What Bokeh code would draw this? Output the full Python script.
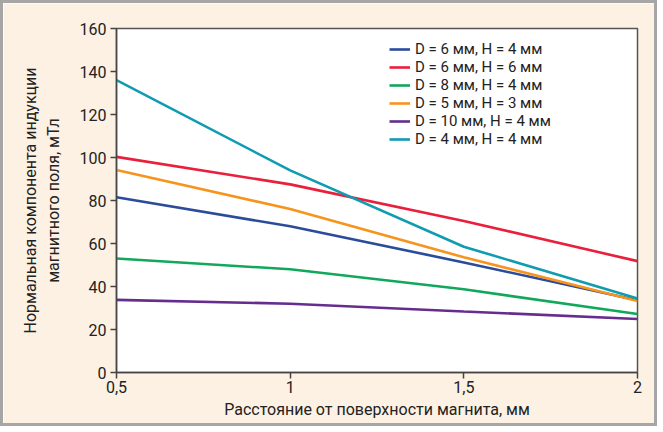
from bokeh.plotting import figure
from bokeh.models import Legend, LegendItem, FixedTicker
from bokeh.embed import file_html
from bokeh.resources import INLINE

x = [0.5, 1.0, 1.5, 2.0]
labels = ["D = 6 мм, H = 4 мм", "D = 6 мм, H = 6 мм", "D = 8 мм, H = 4 мм",
          "D = 5 мм, H = 3 мм", "D = 10 мм, H = 4 мм", "D = 4 мм, H = 4 мм"]
s_d6h4 = [81.5, 68, 51.2, 33.6]
s_d6h6 = [100.3, 87.5, 70.5, 51.8]
s_d8h4 = [53, 48, 38.7, 27.2]
s_d5h3 = [94.2, 76, 53.6, 33.3]
s_d10h4 = [33.8, 32, 28.4, 24.9]
s_d4h4 = [136, 94, 58.5, 34.4]
series = [s_d6h4, s_d6h6, s_d8h4, s_d5h3, s_d10h4, s_d4h4]
colors = ["#2b4c9b", "#ea1f3b", "#12a85c", "#f7941e", "#662d8f", "#0f9cb1"]
y_ticks = [0, 20, 40, 60, 80, 100, 120, 140, 160]
x_ticks = [0.5, 1.0, 1.5, 2.0]
x_tick_labels = {0.5: "0,5", 1.0: "1", 1.5: "1,5", 2.0: "2"}

FONT = "Roboto"
CREAM = "#fdf1e3"

p = figure(width=657, height=426, output_backend="svg", toolbar_location=None,
           x_range=(0.5, 2.0), y_range=(0, 160),
           min_border_left=113, min_border_right=23, min_border_top=25, min_border_bottom=57)
p.border_fill_color = CREAM
p.background_fill_color = "white"
p.outline_line_color = "#555555"
p.outline_line_width = 1.5
p.grid.visible = False
p.styles = {"border": "3px solid #a6a6a6"}

items = []
for s, c, lab in zip(series, colors, labels):
    r = p.line(x, s, line_color=c, line_width=2.6)
    items.append(LegendItem(label=lab, renderers=[r]))

leg = Legend(items=items, location=(273, 224))
leg.background_fill_alpha = 0
leg.border_line_alpha = 0
leg.label_text_font = FONT
leg.label_text_font_size = "15px"
leg.label_text_color = "#222222"
leg.glyph_width = 21
leg.label_height = 18
leg.glyph_height = 18
leg.spacing = 0
leg.padding = 0
leg.margin = 0
leg.label_standoff = 5
p.add_layout(leg)

p.xaxis.ticker = FixedTicker(ticks=x_ticks)
p.xaxis.major_label_overrides = x_tick_labels
p.yaxis.ticker = FixedTicker(ticks=y_ticks)
for ax in (p.xaxis, p.yaxis):
    ax.axis_line_color = "#444444"
    ax.axis_line_width = 1.5
    ax.major_tick_line_color = "#444444"
    ax.major_tick_line_width = 1.5
    ax.major_tick_in = 0
    ax.major_tick_out = 6
    ax.minor_tick_line_color = None
    ax.major_label_text_font = FONT
    ax.major_label_text_font_size = "16px"
    ax.major_label_text_color = "#222222"
    ax.axis_label_text_font = FONT
    ax.axis_label_text_font_size = "16px"
    ax.axis_label_text_font_style = "normal"
    ax.axis_label_text_color = "#222222"
p.xaxis.major_label_standoff = 2
p.yaxis.major_label_standoff = 4
p.xaxis.axis_label = "Расстояние от поверхности магнита, мм"
p.yaxis.axis_label = "Нормальная компонента индукции\nмагнитного поля, мТл"
p.xaxis.axis_label_standoff = 4
p.yaxis.axis_label_standoff = 14

open("out.html", "w").write(file_html(p, INLINE))
